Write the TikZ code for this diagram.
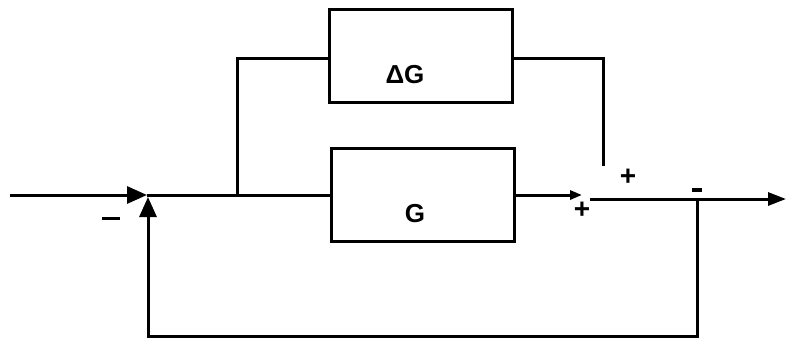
\documentclass[tikz,border=0pt]{standalone}
\usepackage{fontspec}
\setmainfont{Liberation Sans}
\usetikzlibrary{arrows.meta}
\begin{document}
\begin{tikzpicture}[x=1pt,y=-1pt,
  blockbox/.style={draw,line width=3pt,minimum width=183pt,minimum height=93pt,inner sep=0pt},
  boxtext/.style={font=\fontsize{26}{26}\selectfont\bfseries,inner sep=0pt},
  wire/.style={line width=3pt},
  bigtip/.style={-{Triangle[length=20pt,width=17pt]}},
  outtip/.style={-{Triangle[length=18pt,width=13pt]}},
  smalltip/.style={-{Triangle[length=12pt,width=9pt]}},
  sign/.style={font=\fontsize{28}{28}\selectfont\bfseries,inner sep=0pt}]
\useasboundingbox (0,0) rectangle (789,340);
\node[blockbox] (dg) at (421,56) {};
\node[blockbox] (g) at (423,195) {};
\node[boxtext] (dgt) at (405,75) {ΔG};
\node[boxtext] (gt) at (415,214) {G};
\coordinate (in) at (10,195);
\coordinate (sum) at (147,195);
\coordinate (br) at (237,195);
\coordinate (brt) at (237,58);
\coordinate (dgr) at (603,58);
\coordinate (dgend) at (603,166);
\coordinate (gend) at (582,195);
\coordinate (addin) at (590,199);
\coordinate (tap) at (697,199);
\coordinate (out) at (786,199);
\coordinate (fbb) at (697,336);
\coordinate (fbl) at (148,336);
\coordinate (fbt) at (148,197);
\draw[wire,bigtip] (in) -- (sum);
\draw[wire] (sum) -- (g.west);
\draw[wire] (br) -- (brt) -- (dg.west |- brt);
\draw[wire] (dg.east |- dgr) -- (dgr) -- (dgend);
\draw[wire,smalltip] (g.east) -- (gend);
\draw[wire,outtip] (addin) -- (out);
\draw[wire,bigtip] (tap) -- (fbb) -- (fbl) -- (fbt);
\node[sign] (m1) at (111,218) {\rule{18pt}{3pt}};
\node[sign] (p1) at (628,177) {+};
\node[sign] (p2) at (582,210) {+};
\node[sign] (m2) at (697,190) {\rule{10pt}{4pt}};
\end{tikzpicture}
\end{document}
